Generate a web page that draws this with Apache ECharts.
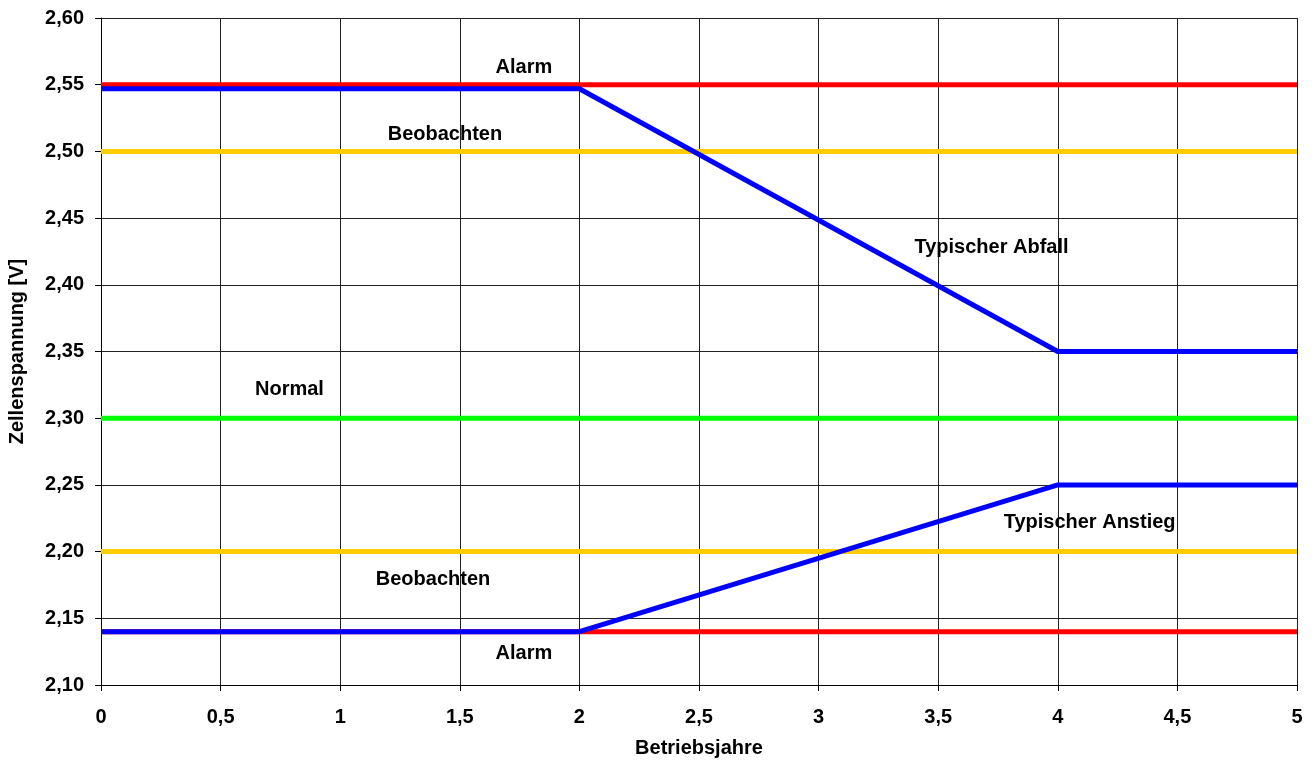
<!DOCTYPE html>
<html>
<head>
<meta charset="utf-8">
<script src="https://cdn.jsdelivr.net/npm/echarts@6/dist/echarts.min.js"></script>
<style>
    html, body { margin: 0; padding: 0; background: #fff; }
    #chart { width: 1316px; height: 765px; }
</style>
</head>
<body>
<div id="chart"></div>
<script>
// Grenzwerte und Verläufe (Betriebsjahre, Zellenspannung)
var years = [0, 2, 4, 5];
var alarmOben = [2.55, 2.55, 2.55, 2.55];
var beobachtenOben = [2.50, 2.50, 2.50, 2.50];
var normal = [2.30, 2.30, 2.30, 2.30];
var beobachtenUnten = [2.20, 2.20, 2.20, 2.20];
var alarmUnten = [2.14, 2.14, 2.14, 2.14];
var abfall = [2.547, 2.547, 2.35, 2.35];
var anstieg = [2.14, 2.14, 2.25, 2.25];

// Beschriftungen im Diagramm
var labelTexts = ['Alarm', 'Beobachten', 'Typischer Abfall', 'Normal', 'Typischer Anstieg', 'Beobachten', 'Alarm'];
var labelX = [1.77, 1.44, 3.725, 0.79, 4.135, 1.39, 1.77];
var labelY = [2.5625, 2.5125, 2.4275, 2.3215, 2.2215, 2.1785, 2.1235];

function pairs(vals) {
    var out = [];
    for (var i = 0; i < years.length; i++) {
        out.push([years[i], vals[i]]);
    }
    return out;
}

function line(vals, color) {
    return {
        type: 'line',
        data: pairs(vals),
        symbol: 'none',
        lineStyle: { color: color, width: 5 },
        animation: false
    };
}

var labelData = [];
for (var i = 0; i < labelTexts.length; i++) {
    labelData.push({ value: [labelX[i], labelY[i]], name: labelTexts[i] });
}

var font = 'Liberation Sans, Arial, sans-serif';

var myChart = echarts.init(document.getElementById('chart'));
myChart.setOption({
    backgroundColor: '#fff',
    grid: { left: 101, right: 19, top: 18, bottom: 80, containLabel: false, outerBoundsMode: 'none' },
    xAxis: {
        type: 'value',
        min: 0,
        max: 5,
        interval: 0.5,
        name: 'Betriebsjahre',
        nameLocation: 'middle',
        nameGap: 53,
        nameTextStyle: { fontFamily: font, fontWeight: 'bold', fontSize: 20, color: '#000' },
        axisLine: { show: true, onZero: false, lineStyle: { color: '#000', width: 1 } },
        axisTick: { show: true, length: 6, lineStyle: { color: '#000' } },
        axisLabel: {
            fontFamily: font, fontWeight: 'bold', fontSize: 20, color: '#000', margin: 22,
            formatter: function (v) { return String(v).replace('.', ','); }
        },
        splitLine: { show: true, lineStyle: { color: '#222', width: 1 } }
    },
    yAxis: {
        type: 'value',
        min: 2.10,
        max: 2.60,
        interval: 0.05,
        name: 'Zellenspannung [V]',
        nameLocation: 'middle',
        nameGap: 74,
        nameRotate: 90,
        nameTextStyle: { fontFamily: font, fontWeight: 'bold', fontSize: 20, color: '#000' },
        axisLine: { show: true, lineStyle: { color: '#000', width: 1 } },
        axisTick: { show: true, length: 6, lineStyle: { color: '#000' } },
        axisLabel: {
            fontFamily: font, fontWeight: 'bold', fontSize: 20, color: '#000', margin: 17,
            formatter: function (v) { return v.toFixed(2).replace('.', ','); }
        },
        splitLine: { show: true, lineStyle: { color: '#222', width: 1 } }
    },
    series: [
        line(alarmOben, '#ff0000'),
        line(beobachtenOben, '#ffcc00'),
        line(normal, '#00ff00'),
        line(beobachtenUnten, '#ffcc00'),
        line(alarmUnten, '#ff0000'),
        line(abfall, '#0000ff'),
        line(anstieg, '#0000ff'),
        {
            type: 'scatter',
            data: labelData,
            symbolSize: 1,
            itemStyle: { color: 'rgba(0,0,0,0)', opacity: 1 },
            animation: false,
            silent: true,
            label: {
                show: true,
                opacity: 1,
                position: [0, 0],
                align: 'center',
                verticalAlign: 'middle',
                formatter: '{b}',
                fontFamily: font,
                fontWeight: 'bold',
                fontSize: 20,
                color: '#000'
            }
        }
    ]
});
</script>
</body>
</html>
